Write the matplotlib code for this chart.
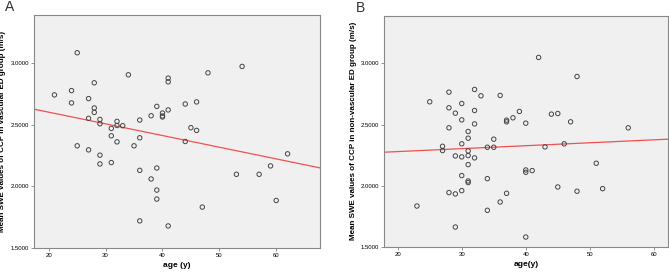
import numpy as np
import matplotlib.pyplot as plt

# panel A: vascular ED group
age_a = [21, 25, 24, 24, 28, 27, 28, 28, 27, 29, 29, 25, 27, 29, 29, 31, 31, 32, 32, 33,
         32, 31, 34, 35, 36, 36, 36, 36, 38, 38, 39, 39, 39, 39, 40, 40, 40, 41, 41, 41,
         41, 44, 44, 45, 46, 46, 47, 48, 53, 54, 57, 59, 60, 62]
swe_a = [2.742, 3.084, 2.777, 2.677, 2.840, 2.712, 2.636, 2.600, 2.552, 2.543, 2.508, 2.329,
         2.296, 2.253, 2.182, 2.470, 2.410, 2.527, 2.494, 2.492, 2.361, 2.193, 2.905, 2.329,
         2.538, 2.394, 2.130, 1.720, 2.573, 2.060, 2.649, 2.149, 1.970, 1.897, 2.595, 2.571,
         2.563, 2.878, 2.848, 2.620, 1.679, 2.668, 2.364, 2.476, 2.685, 2.454, 1.832, 2.921,
         2.098, 2.973, 2.098, 2.166, 1.886, 2.264]

# panel B: non-vascular ED group
age_b = [23, 25, 27, 27, 28, 28, 28, 28, 29, 29, 29, 29, 30, 30, 30, 30, 30, 30, 31, 31,
         31, 31, 31, 31, 31, 32, 32, 32, 32, 33, 34, 34, 34, 35, 35, 36, 36, 37, 37, 37,
         38, 39, 40, 40, 40, 40, 41, 42, 43, 44, 45, 45, 46, 47, 48, 48, 51, 52, 56]
swe_b = [1.833, 2.686, 2.322, 2.287, 2.765, 2.637, 2.473, 1.943, 2.593, 2.243, 1.932, 1.661,
         2.672, 2.538, 2.342, 2.235, 2.082, 1.959, 2.443, 2.388, 2.284, 2.246, 2.172, 2.038,
         2.025, 2.787, 2.615, 2.505, 2.227, 2.735, 2.314, 2.057, 1.798, 2.380, 2.314, 2.738,
         1.866, 2.536, 2.522, 1.937, 2.555, 2.607, 2.511, 2.128, 2.109, 1.579, 2.123, 3.049,
         2.317, 2.585, 2.590, 1.989, 2.342, 2.522, 2.893, 1.954, 2.183, 1.975, 2.473]

xticks = [20, 30, 40, 50, 60]
yticks = [1.5, 2.0, 2.5, 3.0]

plt.rcParams['font.family'] = ['Liberation Sans', 'DejaVu Sans']

fig = plt.figure(figsize=(6.69, 2.72), dpi=100)
ax_a = fig.add_axes([0.0508, 0.0882, 0.4275, 0.8566])
ax_b = fig.add_axes([0.5744, 0.0930, 0.4240, 0.8490])

panels = [
    (ax_a, age_a, swe_a, (17.4, 67.7), 'age (y)',
     'Mean SWE values of CCP in vascular ED group (m/s)', 'A'),
    (ax_b, age_b, swe_b, (17.9, 62.2), 'age(y)',
     'Mean SWE values of CCP in non-vascular ED group (m/s)', 'B'),
]

for ax, x, y, xlim, xlab, ylab, letter in panels:
    ax.set_facecolor('#f0f0f0')
    ax.scatter(x, y, s=10, facecolors='none', edgecolors='#444444', linewidths=0.7, zorder=3)
    # linear fit line
    k, b = np.polyfit(x, y, 1)
    xs = np.array(xlim)
    ax.plot(xs, k * xs + b, color='#f05050', lw=0.9, zorder=2)
    ax.set_xlim(*xlim)
    ax.set_ylim(1.5, 3.39)
    ax.set_xticks(xticks)
    ax.set_yticks(yticks)
    ax.set_yticklabels([f'{v:.4f}' for v in yticks])
    ax.tick_params(labelsize=4.3, length=2, width=0.5, color='#666666', pad=1.5)
    for s in ax.spines.values():
        s.set_color('#888888')
        s.set_linewidth(0.8)
    ax.set_xlabel(xlab, fontsize=6, fontweight='bold', labelpad=3)
    ax.set_ylabel(ylab, fontsize=5.8, fontweight='bold', labelpad=3)
    ax.text(-0.1, 1.065, letter, transform=ax.transAxes, fontsize=10,
            ha='left', va='top', color='#333333')

fig.savefig('out.png', dpi=100)
